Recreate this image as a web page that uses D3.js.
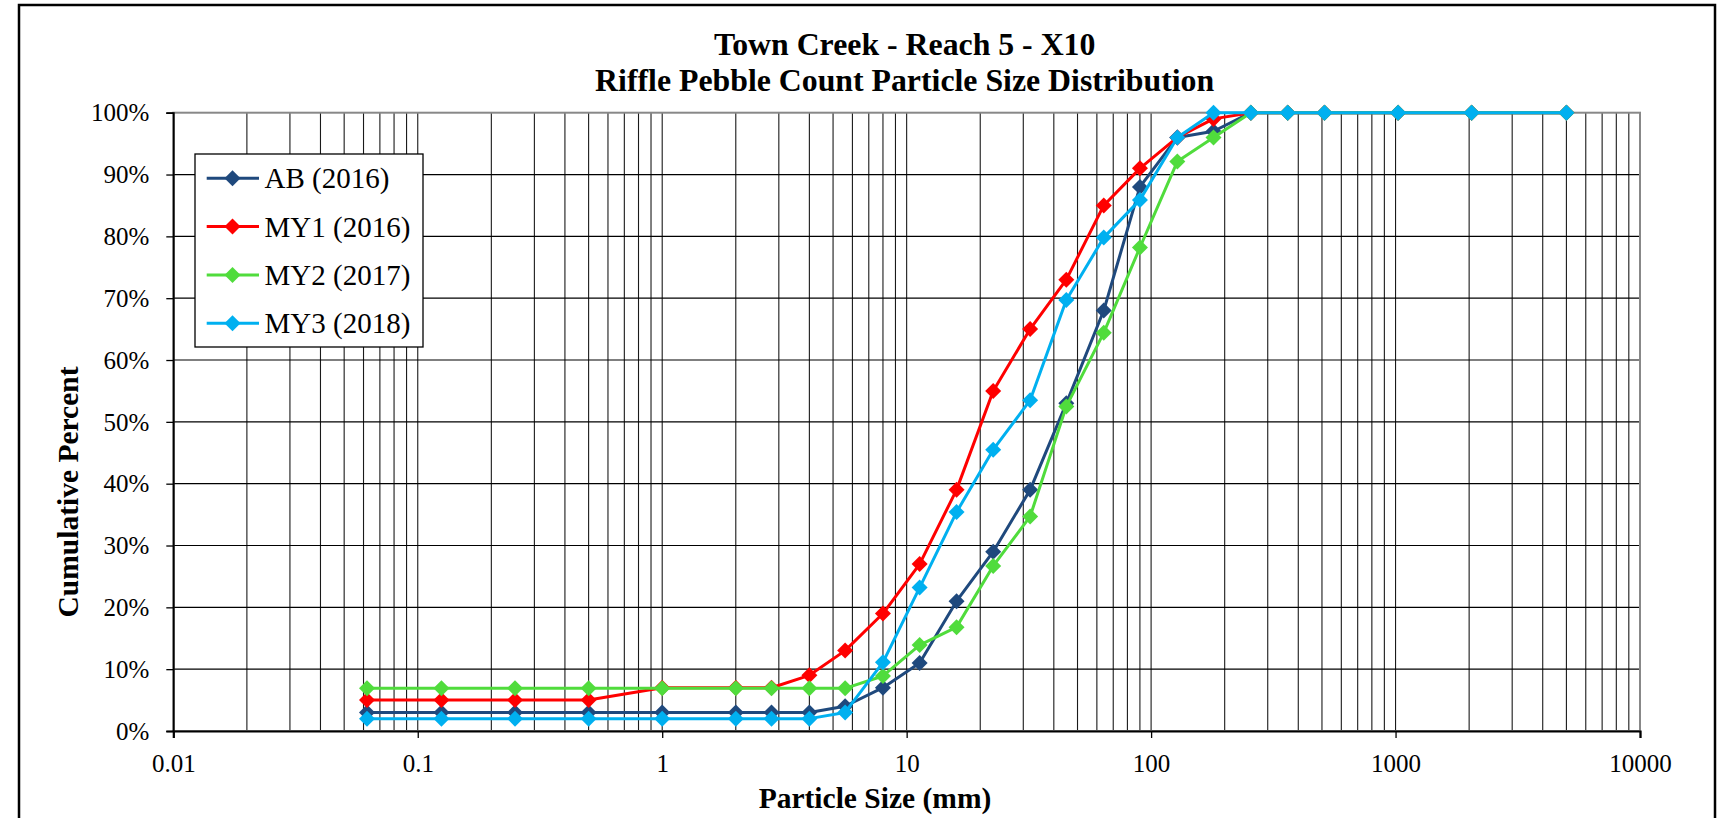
<!DOCTYPE html>
<html>
<head>
<meta charset="utf-8">
<script src="https://cdn.jsdelivr.net/npm/d3@7"></script>
<style>
  html, body { margin: 0; padding: 0; background: #fff; }
  svg { display: block; font-family: "Liberation Serif", "Times New Roman", serif; }
</style>
</head>
<body>
<svg id="chart" width="1725" height="818"></svg>
<script>
// Sieve sizes (mm) for the riffle pebble count
const sizes = [0.062, 0.125, 0.25, 0.5, 1, 2, 2.8, 4, 5.6, 8, 11.3, 16, 22.6, 32, 45, 64, 90, 128, 180, 256, 362, 512, 1024, 2048, 5000];

// Cumulative percent finer for each survey
const ab2016  = [3, 3, 3, 3, 3, 3, 3, 3, 4, 7, 11, 21, 29, 39, 53, 68, 88, 96, 97, 100, 100, 100, 100, 100, 100];
const my12016 = [5, 5, 5, 5, 7, 7, 7, 9, 13, 19, 27, 39, 55, 65, 73, 85, 91, 96, 99, 100, 100, 100, 100, 100, 100];
const my22017 = [6.9, 6.9, 6.9, 6.9, 6.9, 6.9, 6.9, 6.9, 6.9, 8.9, 13.9, 16.8, 26.7, 34.7, 52.5, 64.4, 78.2, 92.1, 96.0, 100, 100, 100, 100, 100, 100];
const my32018 = [2, 2, 2, 2, 2, 2, 2, 2, 3, 11.1, 23.2, 35.4, 45.5, 53.5, 69.7, 79.8, 85.9, 96, 100, 100, 100, 100, 100, 100, 100];

const seriesNames  = ["AB (2016)", "MY1 (2016)", "MY2 (2017)", "MY3 (2018)"];
const seriesValues = [ab2016, my12016, my22017, my32018];
const seriesColors = ["#1F497D", "#FF0000", "#50DC3C", "#00B0F0"];

const xTickValues = [0.01, 0.1, 1, 10, 100, 1000, 10000];
const yTickValues = [0, 10, 20, 30, 40, 50, 60, 70, 80, 90, 100];

const titleLines = ["Town Creek - Reach 5 - X10", "Riffle Pebble Count Particle Size Distribution"];

const svg = d3.select("#chart");

const plot = { left: 173.3, right: 1640, top: 112.7, bottom: 731 };

const x = d3.scaleLog().domain([0.01, 10000]).range([plot.left, plot.right]);
const y = d3.scaleLinear().domain([0, 100]).range([plot.bottom, plot.top]);

// Outer chart frame
svg.append("rect")
  .attr("x", 19).attr("y", 5)
  .attr("width", 1696).attr("height", 840)
  .attr("fill", "#fff")
  .attr("stroke", "#000")
  .attr("stroke-width", 2.5);

// Title
svg.append("text")
  .attr("x", (plot.left + plot.right) / 2)
  .attr("text-anchor", "middle")
  .attr("font-weight", "bold")
  .attr("font-size", 31.8)
  .selectAll("tspan")
  .data(titleLines)
  .join("tspan")
  .attr("x", (plot.left + plot.right) / 2 - 2)
  .attr("y", (d, i) => 55 + i * 36)
  .text(d => d);

// Gridlines: every 1..9 step in each decade, plus horizontal every 10%
const gridX = [];
for (let e = -2; e < 4; e++) {
  for (let k = 1; k <= 9; k++) gridX.push(k * Math.pow(10, e));
}
gridX.push(10000);

const grid = svg.append("g").attr("class", "grid");
grid.selectAll("line.vx")
  .data(gridX)
  .join("line")
  .attr("class", "vx")
  .attr("x1", d => x(d)).attr("x2", d => x(d))
  .attr("y1", plot.top).attr("y2", plot.bottom)
  .attr("stroke", "#1a1a1a")
  .attr("stroke-width", 1.1);

grid.selectAll("line.hy")
  .data(yTickValues.filter(v => v > 0 && v < 100))
  .join("line")
  .attr("class", "hy")
  .attr("x1", plot.left).attr("x2", plot.right)
  .attr("y1", d => y(d)).attr("y2", d => y(d))
  .attr("stroke", "#000")
  .attr("stroke-width", 1.2);

// Plot area border (grey)
svg.append("rect")
  .attr("x", plot.left).attr("y", plot.top)
  .attr("width", plot.right - plot.left)
  .attr("height", plot.bottom - plot.top)
  .attr("fill", "none")
  .attr("stroke", "#888")
  .attr("stroke-width", 2);

// Y axis
const yAxis = d3.axisLeft(y)
  .tickValues(yTickValues)
  .tickSize(7)
  .tickPadding(17)
  .tickFormat(d => d + "%");
const gy = svg.append("g")
  .attr("transform", `translate(${plot.left},0)`)
  .call(yAxis);
gy.select(".domain").attr("stroke", "#000").attr("stroke-width", 1.8);
gy.selectAll(".tick line").attr("stroke", "#000").attr("stroke-width", 1.3);
gy.selectAll(".tick text")
  .attr("font-family", "Liberation Serif, Times New Roman, serif")
  .attr("font-size", 25)
  .attr("fill", "#000")
  .attr("dy", "0.33em");

// X axis
const xAxis = d3.axisBottom(x)
  .tickValues(xTickValues)
  .tickSize(7)
  .tickPadding(16)
  .tickFormat(d3.format("~g"));
const gx = svg.append("g")
  .attr("transform", `translate(0,${plot.bottom})`)
  .call(xAxis);
gx.select(".domain").attr("stroke", "#000").attr("stroke-width", 2.2);
gx.selectAll(".tick line").attr("stroke", "#000").attr("stroke-width", 1.3);
gx.selectAll(".tick text")
  .attr("font-family", "Liberation Serif, Times New Roman, serif")
  .attr("font-size", 25)
  .attr("fill", "#000")
  .attr("dy", "0.71em");

// Axis titles
svg.append("text")
  .attr("x", 875).attr("y", 808)
  .attr("text-anchor", "middle")
  .attr("font-weight", "bold")
  .attr("font-size", 29.5)
  .text("Particle Size (mm)");

svg.append("text")
  .attr("transform", "translate(78,492) rotate(-90)")
  .attr("text-anchor", "middle")
  .attr("font-weight", "bold")
  .attr("font-size", 29.5)
  .text("Cumulative Percent");

// Series lines and diamond markers
const diamond = r => `M0,${-r}L${r},0L0,${r}L${-r},0Z`;
const line = d3.line().x(d => x(d[0])).y(d => y(d[1]));

seriesValues.forEach((vals, i) => {
  const pts = sizes.map((s, j) => [s, vals[j]]);
  const g = svg.append("g").attr("class", "series");
  g.append("path")
    .attr("d", line(pts))
    .attr("fill", "none")
    .attr("stroke", seriesColors[i])
    .attr("stroke-width", 3)
    .attr("stroke-linejoin", "round");
  g.selectAll("path.mk")
    .data(pts)
    .join("path")
    .attr("class", "mk")
    .attr("transform", d => `translate(${x(d[0])},${y(d[1])})`)
    .attr("d", diamond(8))
    .attr("fill", seriesColors[i]);
});

// Legend
const legend = svg.append("g").attr("class", "legend");
legend.append("rect")
  .attr("x", 195).attr("y", 154)
  .attr("width", 228).attr("height", 193)
  .attr("fill", "#fff")
  .attr("stroke", "#000")
  .attr("stroke-width", 1.3);
const rows = legend.selectAll("g.row")
  .data(seriesNames)
  .join("g")
  .attr("class", "row")
  .attr("transform", (d, i) => `translate(0,${178.3 + i * 48.3})`);
rows.append("line")
  .attr("x1", 206.7).attr("x2", 259)
  .attr("stroke", (d, i) => seriesColors[i])
  .attr("stroke-width", 3);
rows.append("path")
  .attr("transform", "translate(232.5,0)")
  .attr("d", diamond(8))
  .attr("fill", (d, i) => seriesColors[i]);
rows.append("text")
  .attr("x", 264.5).attr("y", 10)
  .attr("font-size", 29)
  .attr("fill", "#000")
  .text(d => d);
</script>
</body>
</html>
